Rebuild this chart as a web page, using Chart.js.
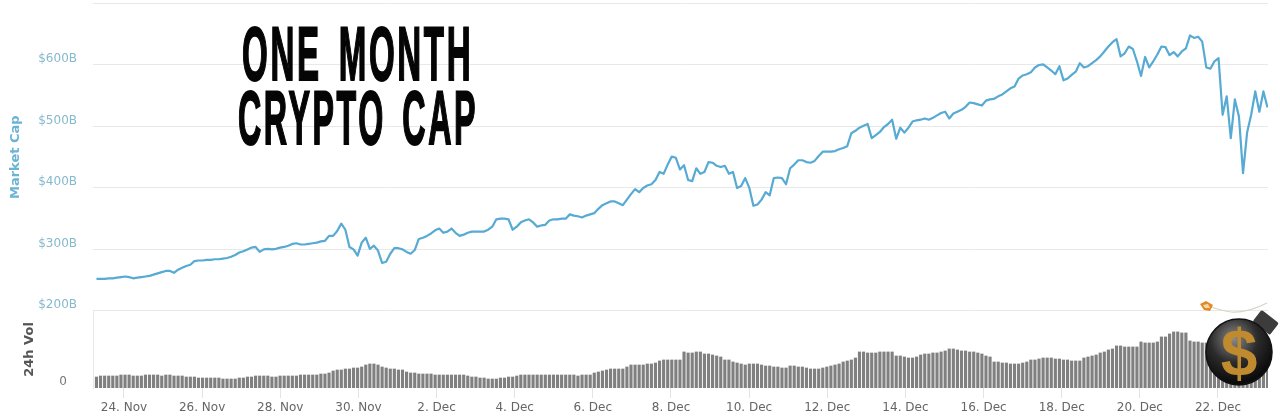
<!DOCTYPE html>
<html>
<head>
<meta charset="utf-8">
<style>
html,body{margin:0;padding:0;background:#fff;width:1280px;height:417px;overflow:hidden}
#wrap{position:relative;width:1280px;height:417px}
canvas{position:absolute;left:0;top:0}
.ttl{position:absolute;font-family:"Liberation Sans Narrow","Liberation Sans",sans-serif;font-weight:700;color:#050505;white-space:pre;transform-origin:0 0;line-height:1;-webkit-text-stroke:2px #050505;text-shadow:0 0 3px #fff;word-spacing:12px}
#bomb{position:absolute;left:1195px;top:295px}
</style>
</head>
<body>
<div id="wrap">
<canvas id="c" width="1280" height="417"></canvas>
<div class="ttl" id="t1" style="left:242px;top:16px;font-size:76px;letter-spacing:6px">ONE MONTH</div>
<div class="ttl" id="t2" style="left:238px;top:80px;font-size:76px;letter-spacing:6px">CRYPTO CAP</div>
<svg id="bomb" width="85" height="100" viewBox="0 0 85 100">
<defs>
<radialGradient id="g" cx="0.42" cy="0.3" r="0.8">
<stop offset="0" stop-color="#8a8a8a"/><stop offset="0.45" stop-color="#2b2b2b"/><stop offset="0.85" stop-color="#0a0a0a"/><stop offset="1" stop-color="#3a3a3a"/>
</radialGradient>
</defs>
<path d="M72 8 C60 14 48 18 36 17 C28 16 22 14 16 12" fill="none" stroke="#d8d4c8" stroke-width="1.2"/>
<path d="M5 9 L11 6 L18 10 L15 16 L9 15 Z" fill="#e08a2c"/>
<path d="M8 10 L13 9 L15 13 L10 13 Z" fill="#f7d9a0"/>
<rect x="60" y="20" width="22" height="15" rx="2" transform="rotate(38 71 27)" fill="#3c3c3c"/>
<circle cx="44" cy="57" r="33" fill="url(#g)" stroke="#111" stroke-width="1.5"/>
<text x="44" y="81" text-anchor="middle" font-family="Liberation Sans,sans-serif" font-weight="700" font-size="66" fill="#c08a2e">$</text>
</svg>
</div>
<script src="https://cdn.jsdelivr.net/npm/chart.js@4/dist/chart.umd.min.js"></script>
<script>
// Market cap in $B, one reading per volume bar
const capValues = [
252,252,252,253,253,254,255,256,255,253,
254,255,256,257,259,261,263,265,265,262,
267,270,273,275,281,282,282,283,283,284,
284,285,286,288,291,295,297,300,303,304,
296,300,301,300,301,303,304,306,309,310,
308,308,309,310,311,313,314,322,322,330,
342,332,304,300,290,311,319,301,306,298,
278,280,293,302,302,300,296,293,299,317,
319,322,326,331,334,327,329,334,327,322,
324,327,329,329,329,329,332,337,349,350,
350,349,332,337,344,347,349,344,337,339,
340,347,349,349,350,350,357,355,354,352,
355,357,359,366,372,375,378,378,375,372,
381,390,398,393,400,404,406,413,426,423,
438,451,449,430,437,413,411,432,423,426,
442,441,436,434,436,423,426,400,403,416,
400,371,373,381,393,388,416,417,416,406,
432,438,445,445,442,441,444,452,459,459,
459,460,463,465,468,489,493,498,501,504,
481,486,491,499,504,511,480,498,490,498,
508,510,511,513,511,514,518,522,524,513,
521,524,527,532,539,538,536,534,542,544,
545,549,552,557,562,565,578,583,585,588,
596,600,601,596,591,585,598,575,578,584,
589,603,596,598,603,608,614,622,630,637,
642,614,619,630,626,606,582,613,596,606,
617,630,629,616,621,614,622,627,648,644,
646,638,596,594,606,611,519,549,481,544,
516,424,490,519,557,524,557,531
];
// 24h volume in $B
const volValues = [
11,12,12,12,12,12,13,13,13,12,
12,12,13,13,13,13,12,13,13,12,
12,12,11,11,11,10,10,10,10,10,
10,9,9,9,9,10,10,11,11,12,
12,12,12,11,11,12,12,12,12,12,
13,13,13,13,13,14,14,15,17,18,
18,19,19,20,20,21,23,24,24,23,
21,20,19,19,18,18,16,15,15,14,
14,14,14,13,13,13,13,13,13,13,
13,12,11,11,10,10,9,9,9,10,
10,11,11,12,13,13,13,13,13,13,
13,13,13,13,13,13,13,13,12,13,
13,13,15,16,17,18,19,19,19,19,
21,23,23,23,23,24,24,25,27,28,
28,28,28,28,36,35,35,36,36,34,
34,33,32,31,28,28,26,25,24,23,
24,24,24,23,22,22,21,21,20,20,
22,22,21,21,20,19,19,19,20,21,
22,23,24,26,27,28,30,36,36,35,
35,35,36,36,36,36,32,32,31,30,
30,31,33,34,34,35,35,36,37,39,
39,38,37,37,36,36,35,34,32,31,
26,26,25,25,24,24,24,25,26,28,
28,29,30,30,30,29,29,28,28,27,
27,27,30,31,32,33,35,36,38,39,
42,42,41,41,41,41,46,45,45,45,
46,51,51,54,56,56,55,55,47,46,
46,45,45,42,42,42,42,41,40,40,
38,36,34,32,30,30,30,30
];
const xTickLabels = ['24. Nov','26. Nov','28. Nov','30. Nov','2. Dec','4. Dec','6. Dec','8. Dec','10. Dec','12. Dec','14. Dec','16. Dec','18. Dec','20. Dec','22. Dec'];
const firstDay = -0.704, stepDays = 0.10443; // days after 24 Nov
const capPoints = capValues.map((v,i)=>({x:firstDay+i*stepDays,y:v}));
const volPoints = volValues.map((v,i)=>({x:firstDay+i*stepDays,y:v}));
const noPad = s => { s.paddingTop = 0; s.paddingBottom = 0; s.paddingLeft = 0; s.paddingRight = 0; };

new Chart(document.getElementById('c'),{
  data:{datasets:[
    {type:'line',label:'Market Cap',data:capPoints,yAxisID:'yCap',xAxisID:'x',borderColor:'#56aad3',borderWidth:2.2,pointRadius:0,tension:0,borderJoinStyle:'round'},
    {type:'bar',label:'24h Vol',data:volPoints,yAxisID:'yVol',xAxisID:'x',backgroundColor:'#808080',barThickness:2.5,borderWidth:0}
  ]},
  options:{
    responsive:false,animation:false,
    layout:{padding:{top:3.5,right:12,left:0,bottom:0}},
    plugins:{legend:{display:false},tooltip:{enabled:false},title:{display:false}},
    scales:{
      x:{type:'linear',min:-0.793,max:29.28,offset:false,
        afterFit(s){s.height=29;noPad(s);},
        grid:{offset:false,drawOnChartArea:false,drawTicks:true,tickLength:10,color:'#e4e4e4'},
        border:{display:false},
        ticks:{stepSize:2,includeBounds:false,autoSkip:false,maxRotation:0,padding:3,color:'#666',font:{family:'DejaVu Sans',size:12},
          callback(v){const l=xTickLabels[v/2];return l===undefined?'':l;}}
      },
      yVol:{type:'linear',position:'left',stack:'s',stackWeight:77,min:0,max:77,
        afterFit(s){s.width=93;noPad(s);},
        grid:{display:false},
        border:{display:true,color:'#e8e8e8'},
        title:{display:true,text:'24h Vol',color:'#555',padding:{top:22,bottom:0},font:{family:'DejaVu Sans',size:13,weight:'bold'}},
        ticks:{stepSize:77,padding:18,color:'#777',font:{family:'DejaVu Sans',size:12,lineHeight:1},
          callback(v){return v===0?['0','']:'';}}
      },
      yCap:{type:'linear',position:'left',stack:'s',stackWeight:307,min:200,max:700,
        afterFit(s){s.width=93;noPad(s);},
        grid:{color:'#e8e8e8',drawTicks:false},
        border:{display:false},
        title:{display:true,text:'Market Cap',color:'#6db3d4',padding:{top:8,bottom:0},font:{family:'DejaVu Sans',size:13,weight:'bold'}},
        ticks:{stepSize:100,padding:16,color:'#86b9cc',font:{family:'DejaVu Sans',size:12,lineHeight:1},
          callback(v){return v>=700?'':['$'+v+'B',''];}}
      }
    }
  }
});
// Fit the condensed headline to its box in the reference
[['t1',231],['t2',240]].forEach(([id,w])=>{
  const el=document.getElementById(id);
  el.style.transform='scaleX('+(w/el.offsetWidth)+')';
});
</script>
</body>
</html>
